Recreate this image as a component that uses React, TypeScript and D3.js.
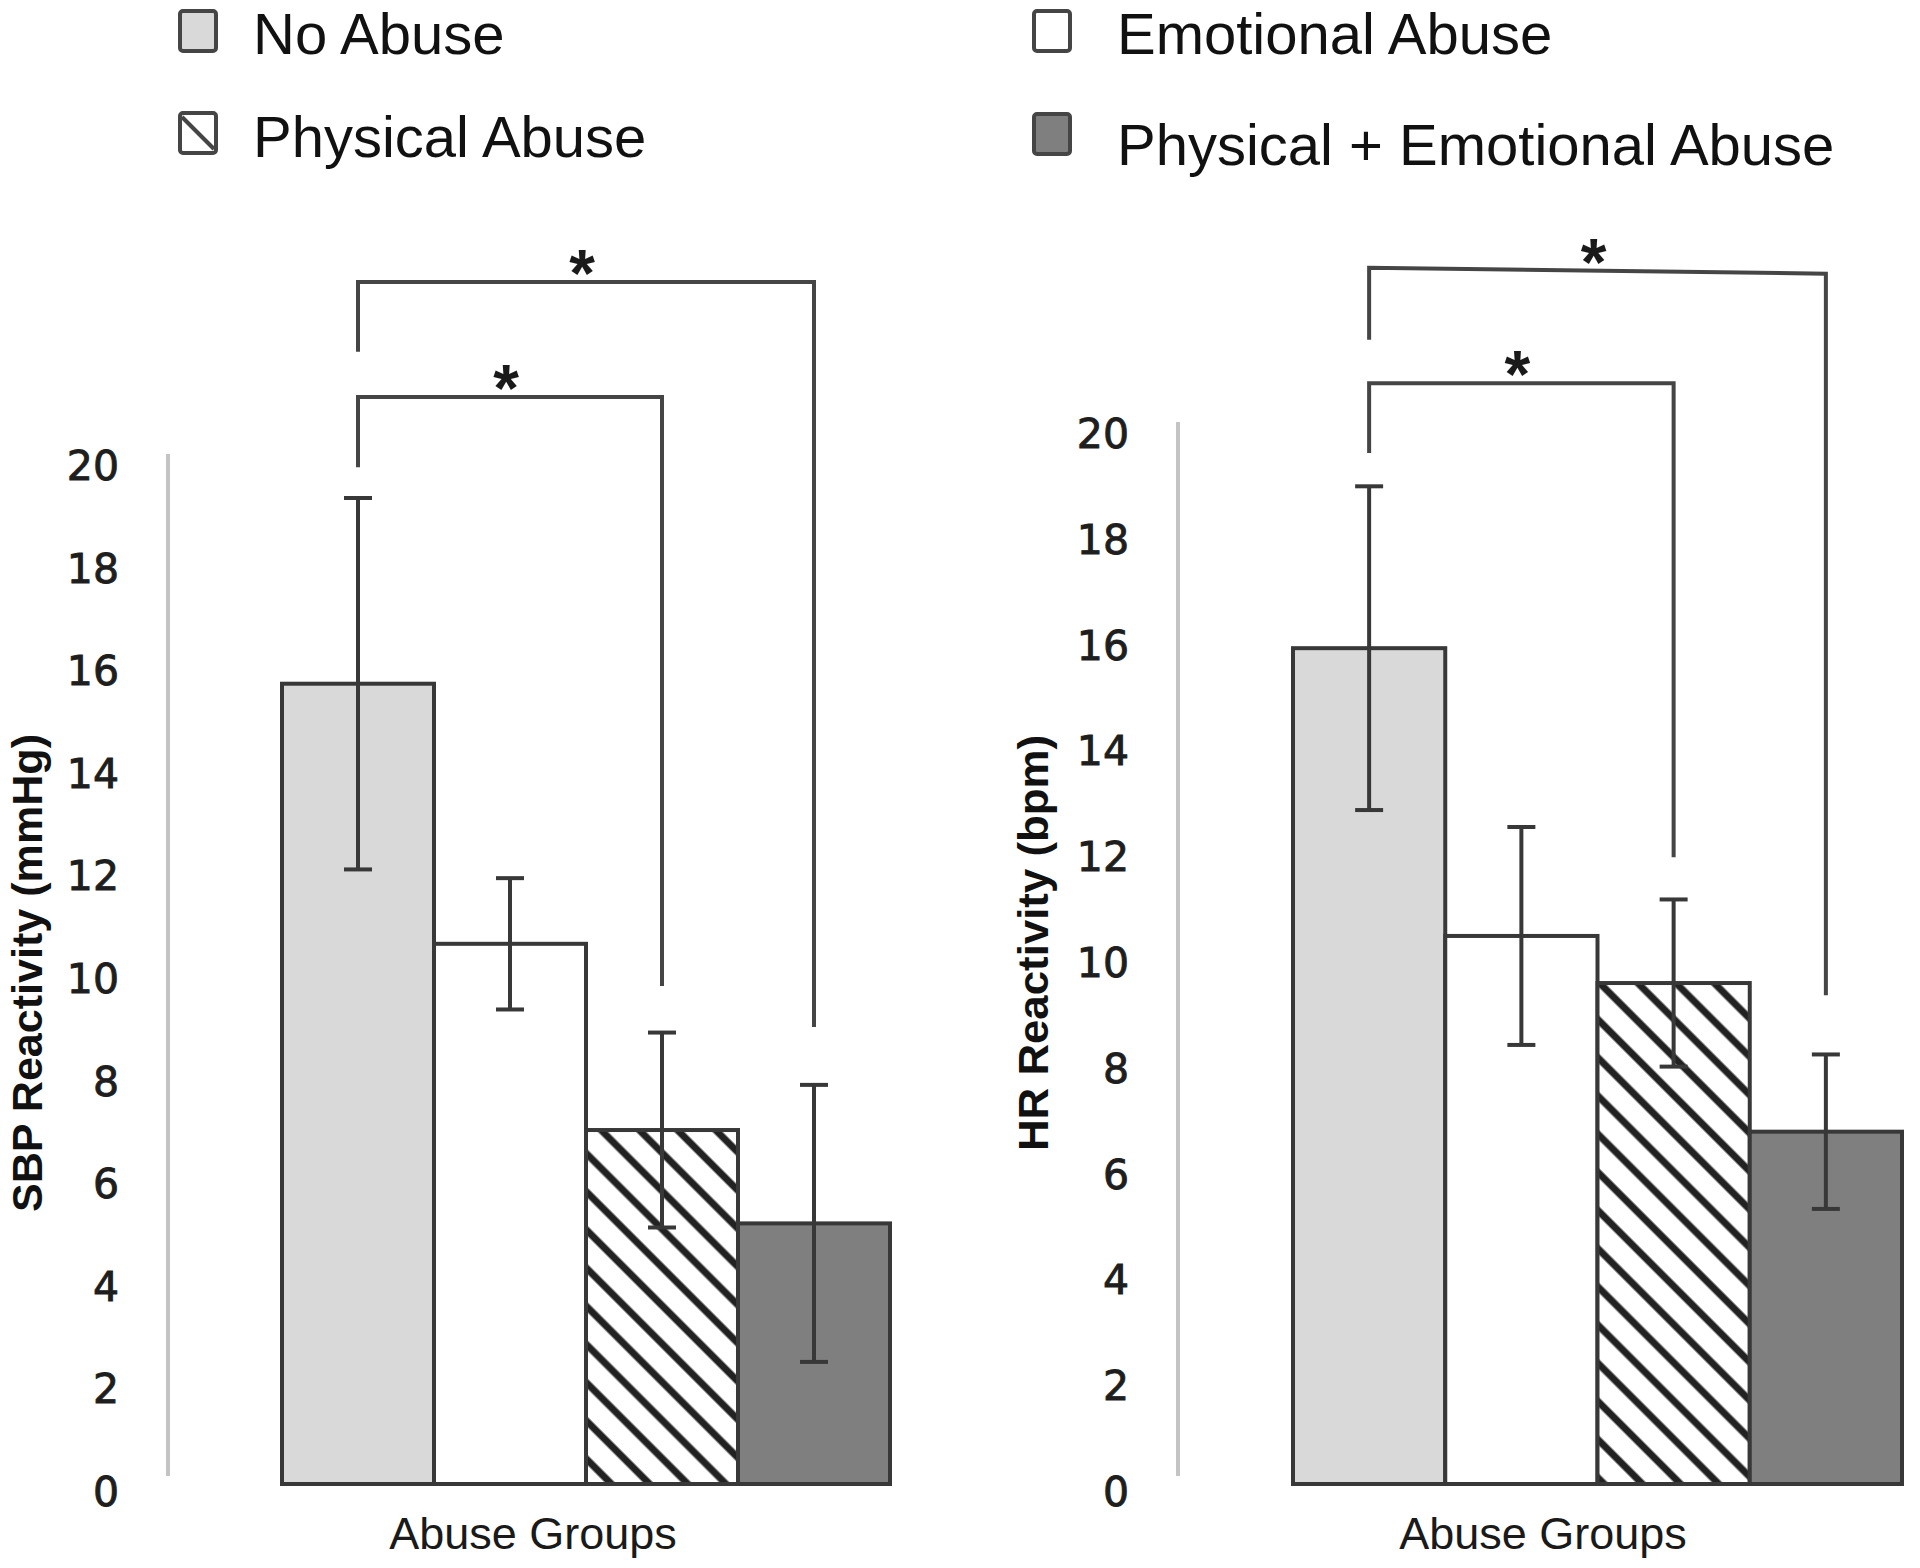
import React from "react";
import * as d3 from "d3";

// ---- data ----
const categories = ["No Abuse", "Emotional Abuse", "Physical Abuse", "Physical + Emotional Abuse"];
const sbpMean = [15.6, 10.53, 6.9, 5.08];
const sbpErr = [3.62, 1.28, 1.9, 2.7];
const hrMean = [15.8, 10.36, 9.47, 6.66];
const hrErr = [3.06, 2.06, 1.58, 1.46];
const yTicks = [0, 2, 4, 6, 8, 10, 12, 14, 16, 18, 20];
const sbpBrackets = [
  { from: 0, to: 3, yLeft: 23.43, yRight: 23.43, leftEnd: 22.07, rightEnd: 8.91, label: "*" },
  { from: 0, to: 2, yLeft: 21.19, yRight: 21.19, leftEnd: 19.82, rightEnd: 9.71, label: "*" },
];
const hrBrackets = [
  { from: 0, to: 3, yLeft: 22.99, yRight: 22.88, leftEnd: 21.63, rightEnd: 9.24, label: "*" },
  { from: 0, to: 2, yLeft: 20.81, yRight: 20.81, leftEnd: 19.49, rightEnd: 11.85, label: "*" },
];
const xTitle = "Abuse Groups";

// ---- styles ----
const FILLS = ["#d9d9d9", "#ffffff", "url(#hatch)", "#7f7f7f"];
const DARK = "#383838";
const SANS = "'Liberation Sans', Arial, sans-serif";

type Bracket = { from: number; to: number; yLeft: number; yRight: number; leftEnd: number; rightEnd: number; label: string };

function Panel(props: {
  axisX: number;
  bandRange: [number, number];
  yRange: [number, number];
  means: number[];
  errs: number[];
  brackets: Bracket[];
  yTitle: string;
  yTitleX: number;
  yTitleY: number;
  yTitleLen: number;
}) {
  const { axisX, bandRange, yRange, means, errs, brackets, yTitle, yTitleX, yTitleY, yTitleLen } = props;
  const x = d3.scaleBand<string>().domain(categories).range(bandRange).padding(0);
  const y = d3.scaleLinear().domain([0, 20]).range(yRange);
  const bw = x.bandwidth();
  const cx = (i: number) => (x(categories[i]) as number) + bw / 2;
  const cap = 14;
  return (
    <g>
      {/* y axis line */}
      <line x1={axisX} x2={axisX} y1={y(20) - 4} y2={y(0) - 8} stroke="#c4c4c4" strokeWidth={4} />
      {yTicks.map((t) => (
        <text
          key={t}
          x={axisX - 49}
          y={y(t) + 8}
          textAnchor="end"
          dominantBaseline="central"
          fontFamily="'DejaVu Sans', Verdana, sans-serif"
          fontSize={41}
          fill="#1e1e1e"
          stroke="#1e1e1e"
          strokeWidth={0.9}
        >
          {t}
        </text>
      ))}
      <text
        transform={`translate(${yTitleX},${yTitleY}) rotate(-90)`}
        textAnchor="middle"
        dominantBaseline="central"
        fontFamily={SANS}
        fontWeight="bold"
        fontSize={42}
        textLength={yTitleLen}
        lengthAdjust="spacingAndGlyphs"
        fill="#111"
      >
        {yTitle}
      </text>
      {/* bars */}
      {means.map((m, i) => (
        <rect
          key={categories[i]}
          x={x(categories[i])}
          y={y(m)}
          width={bw}
          height={y(0) - y(m)}
          fill={FILLS[i]}
          stroke={DARK}
          strokeWidth={4}
        />
      ))}
      {/* error bars */}
      {means.map((m, i) => (
        <g key={"e" + i} stroke={DARK} strokeWidth={4}>
          <line x1={cx(i)} x2={cx(i)} y1={y(m + errs[i])} y2={y(m - errs[i])} />
          <line x1={cx(i) - cap} x2={cx(i) + cap} y1={y(m + errs[i])} y2={y(m + errs[i])} />
          <line x1={cx(i) - cap} x2={cx(i) + cap} y1={y(m - errs[i])} y2={y(m - errs[i])} />
        </g>
      ))}
      {/* significance brackets */}
      {brackets.map((b, k) => {
        const x1 = cx(b.from);
        const x2 = cx(b.to);
        const p = d3.path();
        p.moveTo(x1, y(b.leftEnd));
        p.lineTo(x1, y(b.yLeft));
        p.lineTo(x2, y(b.yRight));
        p.lineTo(x2, y(b.rightEnd));
        const mx = (x1 + x2) / 2;
        const my = (y(b.yLeft) + y(b.yRight)) / 2;
        return (
          <g key={"b" + k}>
            <path d={p.toString()} fill="none" stroke="#454545" strokeWidth={4} />
            <text x={mx - 4} y={my + 14} textAnchor="middle" fontFamily={SANS} fontWeight="bold" fontSize={66} fill="#1a1a1a">
              {b.label}
            </text>
          </g>
        );
      })}
      <text x={axisX + 365} y={1549} textAnchor="middle" fontFamily={SANS} fontSize={45} fill="#1a1a1a">
        {xTitle}
      </text>
    </g>
  );
}

function Legend() {
  const cols = [180, 1034];
  const textX = [253, 1117];
  const rows = [{ sw: 11, base: 54 }, { sw: 113, base: 157 }];
  const order = [0, 1, 2, 3];
  return (
    <g>
      {order.map((i) => {
        const col = i % 2;
        const row = Math.floor(i / 2);
        const sx = cols[col];
        const sy = rows[row].sw + (i === 3 ? 1 : 0);
        return (
          <g key={categories[i]}>
            <rect x={sx} y={sy} width={36} height={40} rx={3} fill={i === 2 ? "#fff" : FILLS[i]} stroke="#454545" strokeWidth={4} />
            {i === 2 && <line x1={sx + 2} y1={sy + 4} x2={sx + 34} y2={sy + 36} stroke="#454545" strokeWidth={4} />}
            <text x={textX[col]} y={rows[row].base + (i === 3 ? 8 : 0)} fontFamily={SANS} fontSize={58} fill="#111">
              {categories[i]}
            </text>
          </g>
        );
      })}
    </g>
  );
}

export default function App() {
  return (
    <svg
      width={1920}
      height={1568}
      viewBox="0 0 1920 1568"
      style={{ position: "absolute", left: 0, top: 0, background: "#fff" }}
    >
      <defs>
        <pattern id="hatch" patternUnits="userSpaceOnUse" width={27} height={27} patternTransform="rotate(-45)">
          <rect width={27} height={27} fill="#fff" />
          <line x1={4} y1={0} x2={4} y2={27} stroke="#222" strokeWidth={7} />
        </pattern>
      </defs>
      <rect width={1920} height={1568} fill="#fff" />
      <Legend />
      <Panel
        axisX={168}
        bandRange={[282, 890]}
        yRange={[1484, 458]}
        means={sbpMean}
        errs={sbpErr}
        brackets={sbpBrackets}
        yTitle="SBP Reactivity (mmHg)"
        yTitleX={27}
        yTitleY={973}
        yTitleLen={478}
      />
      <Panel
        axisX={1178}
        bandRange={[1293, 1902]}
        yRange={[1484, 426]}
        means={hrMean}
        errs={hrErr}
        brackets={hrBrackets}
        yTitle="HR Reactivity (bpm)"
        yTitleX={1033}
        yTitleY={943}
        yTitleLen={416}
      />
    </svg>
  );
}
